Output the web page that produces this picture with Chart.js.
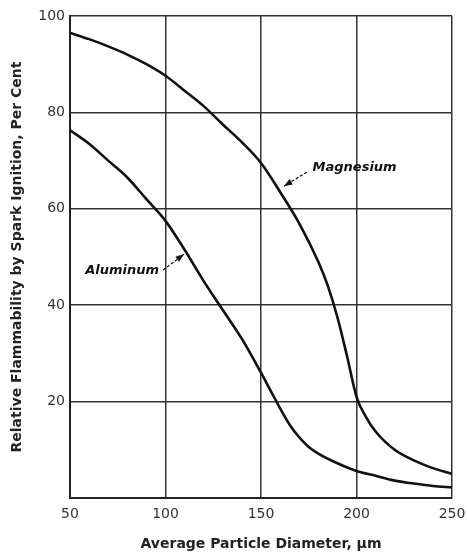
<!DOCTYPE html>
<html>
<head>
<meta charset="utf-8">
<script src="https://cdn.jsdelivr.net/npm/chart.js@4/dist/chart.umd.min.js"></script>
<style>
  html, body { margin: 0; padding: 0; background: #fff; }
  #wrap { width: 467px; height: 554px; }
</style>
</head>
<body>
<div id="wrap"><canvas id="grafico"></canvas></div>
<script>
// valores
const diametroMg = [50, 60, 70, 80, 90, 100, 110, 120, 130, 140, 150, 160, 170, 180, 185, 190, 195, 200, 205, 210, 220, 230, 240, 250];
const magnesio = [96.5, 95.2, 93.7, 92, 90, 87.6, 84.5, 81.3, 77.5, 73.8, 69.5, 63.5, 57, 49, 44, 37.5, 29.5, 21, 16.8, 13.8, 10, 7.8, 6.2, 5];
const diametroAl = [50, 60, 70, 80, 90, 100, 110, 120, 130, 140, 150, 155, 160, 165, 170, 175, 180, 190, 200, 210, 220, 230, 240, 250];
const aluminio = [76.3, 73.5, 70, 66.5, 62, 57.5, 51.5, 45, 39, 33, 26, 22.3, 18.6, 15.2, 12.6, 10.6, 9.2, 7.2, 5.6, 4.6, 3.6, 3, 2.5, 2.2];
const ticksX = [50, 100, 150, 200, 250];
const ticksY = [20, 40, 60, 80, 100];

const etiquetas = [
    { texto: "Magnesium", x: 177, y: 68.5, desde: [174, 67.6], hasta: [162, 64.7] },
    { texto: "Aluminum", x: 58, y: 47.1, desde: [98.7, 47.3], hasta: [109.7, 50.6] },
];

const puntos = (xs, ys) => xs.map((x, i) => ({ x: x, y: ys[i] }));

const pluginEtiquetas = {
    id: "etiquetas",
    afterDatasetsDraw(chart) {
        const ctx = chart.ctx;
        const sx = chart.scales.x, sy = chart.scales.y;
        ctx.save();
        ctx.fillStyle = "#111";
        ctx.strokeStyle = "#111";
        ctx.font = "italic bold 13px 'DejaVu Sans'";
        ctx.textBaseline = "middle";
        etiquetas.forEach((e) => {
            ctx.textAlign = "left";
            ctx.fillText(e.texto, sx.getPixelForValue(e.x), sy.getPixelForValue(e.y));
            const x1 = sx.getPixelForValue(e.desde[0]), y1 = sy.getPixelForValue(e.desde[1]);
            const x2 = sx.getPixelForValue(e.hasta[0]), y2 = sy.getPixelForValue(e.hasta[1]);
            ctx.lineWidth = 1.2;
            ctx.setLineDash([3, 2]);
            ctx.beginPath();
            ctx.moveTo(x1, y1);
            ctx.lineTo(x2, y2);
            ctx.stroke();
            ctx.setLineDash([]);
            const ang = Math.atan2(y2 - y1, x2 - x1);
            ctx.beginPath();
            ctx.moveTo(x2, y2);
            ctx.lineTo(x2 - 9 * Math.cos(ang - 0.35), y2 - 9 * Math.sin(ang - 0.35));
            ctx.lineTo(x2 - 9 * Math.cos(ang + 0.35), y2 - 9 * Math.sin(ang + 0.35));
            ctx.closePath();
            ctx.fill();
        });
        ctx.restore();
    },
};

const ctx = document.getElementById("grafico").getContext("2d");
new Chart(ctx, {
    type: "line",
    data: {
        datasets: [
            {
                label: "Magnesium",
                data: puntos(diametroMg, magnesio),
                borderColor: "#111",
                borderWidth: 2.6,
                pointRadius: 0,
                cubicInterpolationMode: "monotone",
            },
            {
                label: "Aluminum",
                data: puntos(diametroAl, aluminio),
                borderColor: "#111",
                borderWidth: 2.6,
                pointRadius: 0,
                cubicInterpolationMode: "monotone",
            },
        ],
    },
    options: {
        responsive: true,
        maintainAspectRatio: false,
        animation: false,
        layout: { padding: { top: 16, right: 15, left: 0, bottom: 0 } },
        plugins: { legend: { display: false }, tooltip: { enabled: false } },
        scales: {
            x: {
                type: "linear",
                min: 50,
                max: 250,
                afterBuildTicks(scale) {
                    scale.ticks = ticksX.map((v) => ({ value: v }));
                },
                afterFit(scale) {
                    scale.height = 56;
                    scale.paddingLeft = 0;
                    scale.paddingRight = 0;
                },
                grid: { color: "#333", lineWidth: 1.5, drawTicks: false },
                border: { color: "#222", width: 2 },
                ticks: {
                    color: "#333",
                    padding: 8,
                    font: { family: "DejaVu Sans", size: 14 },
                },
                title: {
                    display: true,
                    text: "Average Particle Diameter, µm",
                    color: "#222",
                    font: { family: "DejaVu Sans", size: 14, weight: "bold" },
                    padding: { top: 2, bottom: 1 },
                },
            },
            y: {
                min: 0,
                max: 100,
                afterBuildTicks(scale) {
                    scale.ticks = ticksY.map((v) => ({ value: v }));
                },
                afterFit(scale) {
                    scale.width = 70;
                    scale.paddingTop = 0;
                    scale.paddingBottom = 0;
                },
                grid: { color: "#333", lineWidth: 1.5, drawTicks: false },
                border: { color: "#222", width: 2 },
                ticks: {
                    color: "#333",
                    padding: 5,
                    font: { family: "DejaVu Sans", size: 14 },
                },
                title: {
                    display: true,
                    text: "Relative Flammability by Spark Ignition, Per Cent",
                    color: "#222",
                    font: { family: "DejaVu Sans", size: 14, weight: "bold" },
                    padding: { top: 9, bottom: 2 },
                },
            },
        },
    },
    plugins: [pluginEtiquetas],
});
</script>
</body>
</html>
